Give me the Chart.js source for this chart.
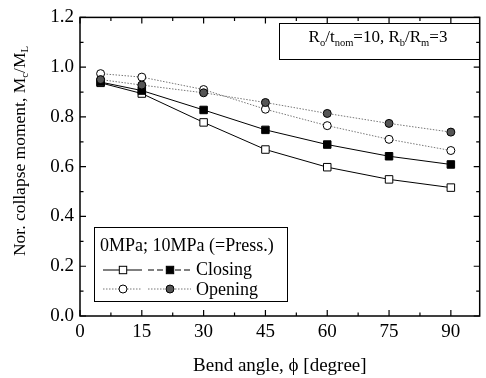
<!DOCTYPE html>
<html>
<head>
<meta charset="utf-8">
<script src="https://cdn.jsdelivr.net/npm/chart.js@4"></script>
<style>
  html, body { margin: 0; padding: 0; background: #fff; }
  #wrap { width: 486px; height: 378px; position: relative; }
</style>
</head>
<body>
<div id="wrap"><canvas id="myCanvas"></canvas></div>
<script>
'use strict';

// data
let bendAngles = [5, 15, 30, 45, 60, 75, 90];
let closing0 = [0.937, 0.894, 0.778, 0.669, 0.598, 0.549, 0.516];
let closing10 = [0.940, 0.906, 0.828, 0.748, 0.689, 0.642, 0.609];
let opening0 = [0.974, 0.960, 0.910, 0.831, 0.765, 0.710, 0.665];
let opening10 = [0.950, 0.928, 0.897, 0.858, 0.814, 0.774, 0.739];
let xTicks = [0, 15, 30, 45, 60, 75, 90];
let yTicks = [0.0, 0.2, 0.4, 0.6, 0.8, 1.0, 1.2];

const serif = '"Liberation Serif", "Times New Roman", serif';

function makePoints(ys) {
  return bendAngles.map((x, i) => ({x: x, y: ys[i]}));
}

// draws a run of text pieces, some of them as subscripts
function drawRich(ctx, parts, x, y, size) {
  let cx = x;
  for (let p of parts) {
    let fs = p.sub ? size * 0.62 : size;
    ctx.font = fs + 'px ' + serif;
    ctx.fillText(p.t, cx, p.sub ? y + size * 0.28 : y);
    cx += ctx.measureText(p.t).width;
  }
  return cx;
}

function richWidth(ctx, parts, size) {
  let w = 0;
  for (let p of parts) {
    ctx.font = (p.sub ? size * 0.62 : size) + 'px ' + serif;
    w += ctx.measureText(p.t).width;
  }
  return w;
}

function marker(ctx, kind, x, y) {
  ctx.save();
  ctx.lineWidth = 1;
  ctx.strokeStyle = '#000';
  ctx.setLineDash([]);
  if (kind === 'sqOpen' || kind === 'sqFill') {
    ctx.fillStyle = kind === 'sqFill' ? '#000' : '#fff';
    ctx.fillRect(x - 3.7, y - 3.7, 7.4, 7.4);
    ctx.strokeRect(x - 3.7, y - 3.7, 7.4, 7.4);
  } else {
    ctx.beginPath();
    ctx.arc(x, y, 4, 0, Math.PI * 2);
    ctx.fillStyle = kind === 'cFill' ? '#555' : '#fff';
    ctx.fill();
    ctx.stroke();
  }
  ctx.restore();
}

const framePlugin = {
  id: 'frame',
  afterDraw(chart) {
    const ctx = chart.ctx;
    const a = chart.chartArea;
    const xs = chart.scales.x;
    const ys = chart.scales.y;
    ctx.save();
    ctx.strokeStyle = '#000';
    ctx.lineWidth = 1.5;
    ctx.strokeRect(a.left, a.top, a.right - a.left, a.bottom - a.top);

    // inward ticks on all four sides
    ctx.lineWidth = 1.2;
    for (let v = 0; v <= 97; v += 7.5) {
      let px = xs.getPixelForValue(v);
      let len = (v % 15 === 0) ? 6 : 3.5;
      ctx.beginPath();
      ctx.moveTo(px, a.bottom); ctx.lineTo(px, a.bottom - len);
      ctx.moveTo(px, a.top); ctx.lineTo(px, a.top + len);
      ctx.stroke();
    }
    for (let k = 0; k <= 12; k++) {
      let py = ys.getPixelForValue(k / 10);
      let len = (k % 2 === 0) ? 6 : 3.5;
      ctx.beginPath();
      ctx.moveTo(a.left, py); ctx.lineTo(a.left + len, py);
      ctx.moveTo(a.right, py); ctx.lineTo(a.right - len, py);
      ctx.stroke();
    }

    ctx.fillStyle = '#000';
    ctx.textBaseline = 'middle';

    // y axis title with subscripts
    ctx.save();
    ctx.translate(20, 151);
    ctx.rotate(-Math.PI / 2);
    let yTitle = [{t: 'Nor. collapse moment, M'}, {t: 'c', sub: true}, {t: '/M'}, {t: 'L', sub: true}];
    let tw = richWidth(ctx, yTitle, 17.5);
    drawRich(ctx, yTitle, -tw / 2, 0, 17.5);
    ctx.restore();

    // parameter box, top right
    ctx.lineWidth = 1;
    ctx.strokeRect(279.5, 23.5, 200, 36);
    let info = [{t: 'R'}, {t: 'o', sub: true}, {t: '/t'}, {t: 'nom', sub: true}, {t: '=10, R'},
      {t: 'b', sub: true}, {t: '/R'}, {t: 'm', sub: true}, {t: '=3'}];
    let iw = richWidth(ctx, info, 17);
    drawRich(ctx, info, 378 - iw / 2, 38, 17);

    // legend box
    ctx.strokeRect(94.5, 227.5, 193, 74);
    ctx.font = '18px ' + serif;
    ctx.fillText('0MPa; 10MPa (=Press.)', 100, 246);
    ctx.fillText('Closing', 196, 270);
    ctx.fillText('Opening', 196, 290);
    ctx.lineWidth = 1;
    ctx.strokeStyle = '#000';
    ctx.beginPath();
    ctx.moveTo(103, 270); ctx.lineTo(142, 270);
    ctx.stroke();
    ctx.setLineDash([6, 3]);
    ctx.beginPath();
    ctx.moveTo(148, 270); ctx.lineTo(191, 270);
    ctx.stroke();
    ctx.strokeStyle = '#777';
    ctx.setLineDash([1.5, 1.5]);
    ctx.beginPath();
    ctx.moveTo(103, 289); ctx.lineTo(142, 289);
    ctx.moveTo(148, 289); ctx.lineTo(191, 289);
    ctx.stroke();
    marker(ctx, 'sqOpen', 123, 270);
    marker(ctx, 'sqFill', 170, 270);
    marker(ctx, 'cOpen', 123, 289);
    marker(ctx, 'cFill', 170, 289);
    ctx.restore();
  }
};

function lineSet(label, ys, style, open, dotted) {
  return {
    label: label,
    data: makePoints(ys),
    borderColor: dotted ? '#777' : '#000',
    borderWidth: 1,
    borderDash: dotted ? [1.5, 1.5] : [],
    pointStyle: style,
    pointRadius: style === 'rect' ? 5.3 : 4,
    pointBorderWidth: 1,
    pointBorderColor: '#000',
    pointBackgroundColor: open ? '#fff' : (style === 'rect' ? '#000' : '#555'),
    tension: 0,
    fill: false
  };
}

const data = {
  datasets: [
    lineSet('Opening 10MPa', opening10, 'circle', false, true),
    lineSet('Opening 0MPa', opening0, 'circle', true, true),
    lineSet('Closing 10MPa', closing10, 'rect', false, false),
    lineSet('Closing 0MPa', closing0, 'rect', true, false)
  ]
};

const config = {
  type: 'line',
  data: data,
  options: {
    responsive: false,
    animation: false,
    devicePixelRatio: 1,
    layout: { padding: { left: 0, right: 3, top: 14, bottom: 0 } },
    plugins: { legend: { display: false }, tooltip: { enabled: false } },
    scales: {
      x: {
        type: 'linear',
        min: 0,
        max: 97,
        afterBuildTicks: (s) => { s.ticks = xTicks.map(v => ({value: v})); },
        afterFit: (s) => { s.height = 62; },
        grid: { display: false, drawTicks: false },
        border: { display: false },
        ticks: { color: '#000', font: { family: serif, size: 19 }, padding: 5, maxRotation: 0 },
        title: { display: true, text: 'Bend angle, \u03d5 [degree]', color: '#000',
          font: { family: serif, size: 19 }, padding: { top: 0, bottom: 1 } }
      },
      y: {
        min: 0,
        max: 1.2,
        afterBuildTicks: (s) => { s.ticks = yTicks.map(v => ({value: v})); },
        afterFit: (s) => { s.width = 80; },
        grid: { display: false, drawTicks: false },
        border: { display: false },
        ticks: { color: '#000', font: { family: serif, size: 19 }, padding: 6,
          callback: (v) => Number(v).toFixed(1) }
      }
    }
  },
  plugins: [framePlugin]
};

const canvas = document.getElementById('myCanvas');
canvas.width = 486;
canvas.height = 378;
const myChart = new Chart(canvas, config);
</script>
</body>
</html>
